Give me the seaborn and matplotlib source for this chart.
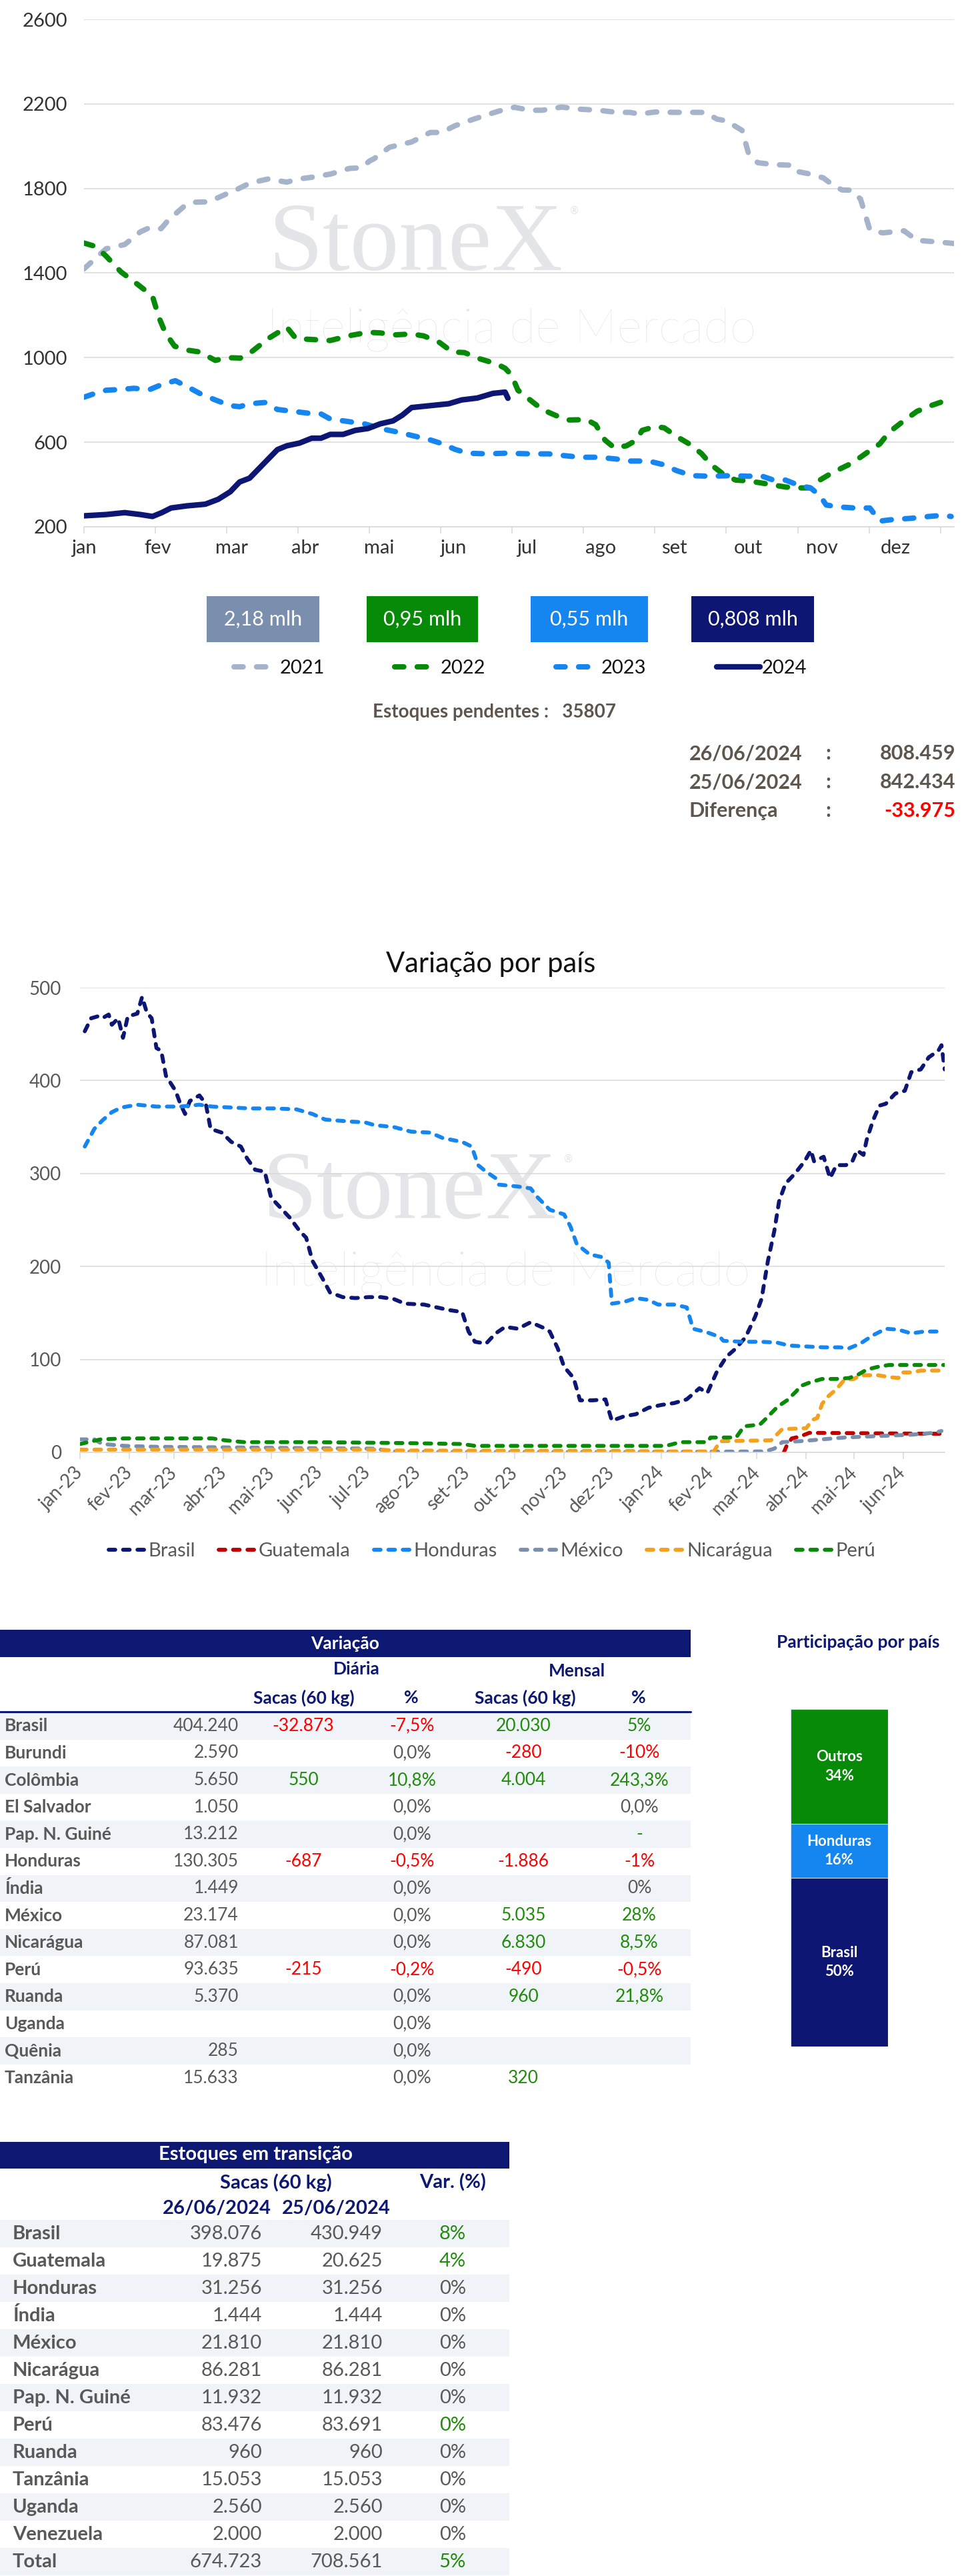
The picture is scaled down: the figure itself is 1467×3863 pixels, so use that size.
import numpy as np
import pandas as pd
import matplotlib
matplotlib.use('Agg')
import matplotlib.pyplot as plt
import matplotlib.dates as mdates
from matplotlib.patches import Rectangle
from matplotlib.ticker import FuncFormatter
import seaborn as sns

W, H = 1467, 3863

meses = ['jan', 'fev', 'mar', 'abr', 'mai', 'jun', 'jul', 'ago', 'set', 'out', 'nov', 'dez']

# estoques certificados (mil sacas), eixo x em meses desde 1o de janeiro
mes_2021 = [0, 0.13, 0.31, 0.57, 0.79, 0.92, 1.08, 1.18, 1.40, 1.53, 1.75, 2.0, 2.14, 2.32, 2.58, 2.84,
            3.01, 3.19, 3.45, 3.72, 3.89, 4.0, 4.06, 4.28, 4.59, 4.85, 5.01, 5.2, 5.46, 5.81, 6.03, 6.25,
            6.42, 6.69, 6.95, 7.21, 7.47, 7.65, 7.78, 8.01, 8.26, 8.70, 8.87, 9.0, 9.22, 9.31, 9.44, 9.66,
            9.92, 10.0, 10.18, 10.36, 10.49, 10.62, 10.75, 10.88, 11.01, 11.19, 11.49, 11.67, 11.93, 12.19]
est_2021 = [1420, 1460, 1515, 1535, 1595, 1615, 1610, 1650, 1715, 1735, 1737, 1775, 1795, 1825, 1845, 1830,
            1845, 1853, 1868, 1895, 1898, 1930, 1940, 1995, 2020, 2065, 2065, 2097, 2128, 2166, 2184, 2170,
            2170, 2185, 2175, 2170, 2160, 2160, 2152, 2162, 2160, 2160, 2128, 2120, 2075, 1967, 1922, 1913,
            1910, 1880, 1868, 1850, 1817, 1793, 1792, 1750, 1605, 1590, 1600, 1555, 1548, 1540]

mes_2022 = [0, 0.17, 0.31, 0.52, 0.70, 0.87, 0.96, 1.05, 1.14, 1.27, 1.44, 1.62, 1.84, 2.01, 2.19, 2.36,
            2.58, 2.71, 2.84, 2.97, 3.19, 3.45, 3.72, 3.98, 4.15, 4.37, 4.59, 4.76, 4.98, 5.16, 5.33, 5.55,
            5.77, 5.90, 5.99, 6.08, 6.25, 6.42, 6.60, 6.77, 7.04, 7.17, 7.30, 7.43, 7.60, 7.74, 7.82, 8.00,
            8.13, 8.30, 8.48, 8.65, 8.79, 8.96, 9.13, 9.31, 9.57, 9.83, 10.01, 10.18, 10.31, 10.49, 10.71,
            10.84, 11.01, 11.15, 11.28, 11.45, 11.67, 11.84, 12.02, 12.15]
est_2022 = [1542, 1525, 1480, 1405, 1360, 1315, 1290, 1190, 1117, 1054, 1036, 1027, 987, 1000, 998, 1031,
            1090, 1117, 1145, 1090, 1086, 1081, 1104, 1120, 1117, 1108, 1112, 1103, 1072, 1027, 1024, 994,
            972, 950, 918, 846, 800, 755, 728, 705, 707, 683, 610, 574, 583, 610, 656, 674,
            668, 628, 592, 547, 493, 448, 421, 417, 403, 388, 384, 384, 421, 457, 493,
            520, 560, 592, 647, 692, 746, 770, 791, 819]

mes_2023 = [0, 0.13, 0.31, 0.48, 0.70, 0.92, 1.09, 1.28, 1.44, 1.62, 1.84, 2.05, 2.18, 2.32, 2.54, 2.71,
            2.93, 3.15, 3.32, 3.45, 3.72, 3.93, 4.15, 4.41, 4.63, 4.85, 5.02, 5.20, 5.38, 5.64, 5.90, 6.25,
            6.51, 6.69, 6.95, 7.21, 7.47, 7.65, 7.91, 8.13, 8.30, 8.52, 8.78, 9.05, 9.31, 9.48, 9.66, 9.83,
            10.01, 10.18, 10.31, 10.40, 10.58, 10.80, 11.01, 11.06, 11.15, 11.32, 11.58, 11.84, 12.02, 12.15]
est_2023 = [813, 828, 846, 849, 855, 849, 873, 891, 864, 831, 800, 773, 768, 782, 788, 755,
            746, 737, 734, 710, 697, 687, 665, 647, 629, 611, 593, 566, 548, 545, 548, 545,
            545, 538, 529, 529, 520, 511, 511, 493, 466, 442, 439, 442, 439, 442, 421, 421,
            397, 384, 348, 303, 294, 289, 289, 267, 227, 234, 240, 249, 254, 249]

mes_2024 = [0, 0.31, 0.57, 0.79, 0.96, 1.09, 1.22, 1.44, 1.70, 1.88, 2.05, 2.18, 2.32, 2.45, 2.58, 2.71,
            2.84, 3.02, 3.19, 3.32, 3.45, 3.63, 3.80, 3.98, 4.15, 4.33, 4.46, 4.59, 4.85, 5.11, 5.29, 5.51,
            5.73, 5.90, 5.94]
est_2024 = [252, 258, 267, 258, 249, 267, 289, 299, 307, 330, 366, 412, 430, 475, 520, 565,
            583, 596, 619, 619, 637, 637, 656, 665, 687, 701, 728, 764, 773, 782, 800, 809,
            831, 837, 808]

anos = ['2021', '2022', '2023', '2024']
caixas = ['2,18 mlh', '0,95 mlh', '0,55 mlh', '0,808 mlh']
cores_ano = ['#A6B4CB', '#078A07', '#1586F0', '#0D1773']
cores_caixa = ['#7A8FAE', '#078A07', '#1586F0', '#0D1773']

pendentes = '35807'
datas = ['26/06/2024', '25/06/2024', 'Diferença']
valores_data = ['808.459', '842.434', '-33.975']

# variação por país (mil sacas), x em dias desde 01/01/2023
dias_brasil = [3, 7, 11, 14, 18, 20, 24, 27, 30, 36, 39, 42, 45, 48, 51, 54, 60, 63, 66, 69,
               75, 79, 82, 89, 95, 101, 105, 110, 116, 120, 126, 132, 138, 142, 146, 152, 157, 165, 173, 181,
               189, 197, 204, 216, 224, 232, 240, 244, 248, 255, 261, 267, 275, 283, 291, 295, 300, 304, 310, 314,
               322, 330, 334, 342, 349, 357, 365, 373, 381, 389, 394, 400, 406, 412, 418, 424, 428, 432, 436, 439,
               443, 449, 455, 459, 461, 467, 471, 475, 481, 485, 488, 492, 494, 498, 502, 506, 512, 518, 522, 528,
               533, 539, 541, 543]
brasil = [453, 467, 469, 467, 471, 460, 467, 446, 469, 472, 490, 473, 467, 435, 432, 405, 389, 375, 364, 378,
          384, 375, 348, 344, 334, 329, 316, 304, 302, 274, 263, 252, 238, 231, 206, 188, 172, 167, 166, 167,
          167, 165, 160, 159, 156, 153, 151, 130, 119, 117, 128, 135, 133, 140, 134, 130, 112, 92, 80, 56,
          56, 57, 34, 39, 41, 48, 51, 53, 57, 69, 64, 87, 103, 112, 124, 146, 165, 206, 238, 270,
          289, 300, 313, 325, 313, 318, 295, 309, 309, 313, 325, 320, 336, 357, 373, 375, 386, 389, 409, 412,
          425, 432, 438, 412]

dias_guatemala = [442, 444, 447, 452, 458, 543]
guatemala = [0, 8, 15, 17, 21, 20]

dias_honduras = [3, 9, 14, 20, 26, 36, 48, 63, 75, 83, 95, 107, 122, 136, 146, 154, 169, 179, 185, 197,
                 208, 220, 228, 240, 246, 250, 255, 261, 263, 275, 283, 287, 295, 304, 308, 312, 320, 328, 332, 334,
                 342, 349, 357, 363, 373, 381, 385, 394, 402, 404, 416, 428, 438, 445, 455, 467, 477, 483, 490, 498,
                 506, 514, 522, 530, 539]
honduras = [329, 348, 357, 366, 371, 374, 372, 372, 374, 372, 371, 370, 370, 369, 364, 358, 356, 355, 352, 350,
            345, 344, 338, 334, 329, 309, 302, 295, 288, 286, 284, 275, 261, 256, 243, 224, 213, 210, 204, 160,
            162, 166, 164, 159, 159, 156, 133, 129, 124, 120, 119, 119, 118, 115, 114, 113, 113, 112, 117, 126,
            133, 132, 128, 130, 130]

dias_mexico = [0, 9, 14, 28, 48, 87, 146, 185, 197, 224, 342, 430, 436, 441, 452, 466, 480, 494, 508, 522, 536, 541]
mexico = [14, 14, 9, 7, 6, 5.5, 4.5, 4, 1, 0.5, 0.5, 1, 4, 11, 12, 14, 16, 17, 18, 19, 21, 23]

dias_nicaragua = [0, 185, 200, 342, 365, 398, 402, 434, 441, 456, 460, 463, 466, 469, 475, 480, 486, 490,
                  501, 508, 514, 516, 522, 528, 543]
nicaragua = [3, 3, 2, 1.5, 1, 1, 12, 13, 25, 26, 35, 37, 52, 59, 68, 78, 79, 83, 83, 81, 80, 86, 86, 88, 88]

dias_peru = [0, 13, 28, 83, 91, 103, 146, 204, 240, 248, 368, 377, 394, 396, 412, 417, 427, 430, 438, 444,
             450, 452, 458, 466, 475, 483, 489, 494, 501, 508, 543]
peru = [9, 14, 15, 15, 13, 11, 11, 10, 9, 7, 7, 11, 11, 16, 16, 28, 30, 35, 49, 56,
        66, 71, 75, 79, 79, 80, 84, 89, 92, 94, 94]

paises_linha = ['Brasil', 'Guatemala', 'Honduras', 'México', 'Nicarágua', 'Perú']
cores_linha = ['#0D1773', '#C00000', '#1586F0', '#7A8FAE', '#F4A11E', '#078A07']

# tabela de variação
paises_var = ['Brasil', 'Burundi', 'Colômbia', 'El Salvador', 'Pap. N. Guiné', 'Honduras', 'Índia',
              'México', 'Nicarágua', 'Perú', 'Ruanda', 'Uganda', 'Quênia', 'Tanzânia']
estoque_var = ['404.240', '2.590', '5.650', '1.050', '13.212', '130.305', '1.449',
               '23.174', '87.081', '93.635', '5.370', '', '285', '15.633']
diaria_sacas = ['-32.873', '', '550', '', '', '-687', '', '', '', '-215', '', '', '', '']
diaria_pct = ['-7,5%', '0,0%', '10,8%', '0,0%', '0,0%', '-0,5%', '0,0%', '0,0%', '0,0%', '-0,2%',
              '0,0%', '0,0%', '0,0%', '0,0%']
mensal_sacas = ['20.030', '-280', '4.004', '', '', '-1.886', '', '5.035', '6.830', '-490', '960', '', '', '320']
mensal_pct = ['5%', '-10%', '243,3%', '0,0%', '-', '-1%', '0%', '28%', '8,5%', '-0,5%', '21,8%', '', '', '']

part_nomes = ['Brasil', 'Honduras', 'Outros']
part_vals = [50, 16, 34]
part_cores = ['#0D1773', '#1586F0', '#078A07']

# estoques em transição
paises_tr = ['Brasil', 'Guatemala', 'Honduras', 'Índia', 'México', 'Nicarágua', 'Pap. N. Guiné', 'Perú',
             'Ruanda', 'Tanzânia', 'Uganda', 'Venezuela', 'Total']
tr_2606 = ['398.076', '19.875', '31.256', '1.444', '21.810', '86.281', '11.932', '83.476', '960',
           '15.053', '2.560', '2.000', '674.723']
tr_2506 = ['430.949', '20.625', '31.256', '1.444', '21.810', '86.281', '11.932', '83.691', '960',
           '15.053', '2.560', '2.000', '708.561']
tr_var = ['8%', '4%', '0%', '0%', '0%', '0%', '0%', '0%', '0%', '0%', '0%', '0%', '5%']
tr_var_verde = [True, True, False, False, False, False, False, True, False, False, False, False, True]

NAVY = '#0D1873'
GREY = '#595959'
GREEN = '#1F8C0A'
RED = '#FF0000'
SHADE = '#F0F3F7'
GRID = '#D9D9D9'
MARCA = '#E4E5E8'

sns.set_theme(style='white')
plt.rcParams['font.family'] = ['Lato', 'DejaVu Sans']

fig = plt.figure(figsize=(W / 100, H / 100), dpi=100)
fig.patch.set_facecolor('white')


def px_axes(l, t, r, b):
    return fig.add_axes([l / W, 1 - b / H, (r - l) / W, (b - t) / H])


ax0 = fig.add_axes([0, 0, 1, 1])
ax0.set_xlim(0, W)
ax0.set_ylim(H, 0)
ax0.axis('off')


def marca(x, y_stone, y_intel):
    ax0.text(x, y_stone, 'StoneX', family='Liberation Serif', fontsize=106, color=MARCA,
             ha='left', va='baseline')
    ax0.text(x + 452, y_stone - 84, '®', family='DejaVu Sans', fontsize=11, color=MARCA,
             ha='left', va='baseline')
    ax0.text(x - 2, y_intel, 'Inteligência de Mercado', fontsize=52, weight='light', color=MARCA,
             ha='left', va='baseline')


marca(402, 405, 514)
marca(393, 1827, 1928)

# ---------------- grafico 1 ----------------
ax1 = px_axes(126, 29, 1431, 790)
ax1.set_facecolor('none')
series = [(mes_2021, est_2021), (mes_2022, est_2022), (mes_2023, est_2023), (mes_2024, est_2024)]
for (m, v), ano, c in zip(series, anos, cores_ano):
    kw = dict(solid_capstyle='round', solid_joinstyle='round')
    if ano != '2024':
        kw.update(dashes=(1.7, 2.5), dash_capstyle='round', dash_joinstyle='round')
        lw = 5.8
    else:
        lw = 6
    sns.lineplot(x=m, y=v, ax=ax1, color=c, lw=lw, label=ano, **kw)

ax1.set_xlim(0, 12.19)
ax1.set_ylim(200, 2600)
ax1.set_yticks(range(200, 2601, 400))
ax1.yaxis.grid(True, color=GRID, lw=1.1)
ax1.set_axisbelow(True)
for s in ['top', 'left', 'right']:
    ax1.spines[s].set_visible(False)
ax1.spines['bottom'].set_color(GRID)
ax1.spines['bottom'].set_linewidth(1.1)
ax1.xaxis.remove_overlapping_locs = False
ax1.set_xticks(range(13), [''] * 13)
ax1.set_xticks(np.arange(12) * 1.034, meses, minor=True)
ax1.tick_params(axis='x', which='major', length=7, width=1.1, color=GRID, bottom=True)
ax1.tick_params(axis='x', which='minor', length=0, pad=14, labelsize=21, labelcolor='#333333')
ax1.tick_params(axis='y', length=0, pad=18, labelsize=21, labelcolor='#333333')
ax1.set_xlabel('')
ax1.set_ylabel('')
h1, l1 = ax1.get_legend_handles_labels()
ax1.get_legend().remove()

# caixas de valores
box_x = [(310, 479), (550, 717), (796, 972), (1037, 1221)]
for (l, r), txt, c in zip(box_x, caixas, cores_caixa):
    ax0.add_patch(Rectangle((l, 894), r - l, 69, color=c, lw=0))
    ax0.text((l + r) / 2, 929, txt, color='white', fontsize=22, ha='center', va='center')

fig.legend(h1, l1, loc='center', bbox_to_anchor=(781 / W, 1 - 1002 / H), ncol=4, frameon=False,
           fontsize=21, handlelength=2.25, handletextpad=0.1, columnspacing=3.6, labelcolor='#111111')

ax0.text(559, 1068, 'Estoques pendentes :   ' + pendentes, fontsize=20, weight='bold', color='#5E554D',
         ha='left', va='center')
for i, (d, v) in enumerate(zip(datas, valores_data)):
    y = 1130 + i * 43
    ax0.text(1034, y, d, fontsize=22, weight='bold', color='#5E554D', ha='left', va='center')
    ax0.text(1242, y, ':', fontsize=22, weight='bold', color='#5E554D', ha='center', va='center')
    ax0.text(1433, y, v, fontsize=22, weight='bold', color=RED if v.startswith('-') else '#5E554D',
             ha='right', va='center')

# ---------------- grafico 2 ----------------
ax0.text(736, 1446, 'Variação por país', fontsize=30, color='#111111', ha='center', va='center')
ax2 = px_axes(120, 1481, 1417, 2178)
ax2.set_facecolor('none')
inicio = pd.Timestamp('2023-01-01')
dados2 = [(dias_brasil, brasil), (dias_guatemala, guatemala), (dias_honduras, honduras),
          (dias_mexico, mexico), (dias_nicaragua, nicaragua), (dias_peru, peru)]
for (d, v), nome, c in zip(dados2, paises_linha, cores_linha):
    datas_x = inicio + pd.to_timedelta(d, unit='D')
    sns.lineplot(x=datas_x, y=v, ax=ax2, color=c, lw=4.2, label=nome, dashes=(1.7, 2.0),
                 dash_capstyle='round', dash_joinstyle='round')

ax2.set_xlim(inicio, pd.Timestamp('2024-06-27'))
ax2.set_ylim(0, 500)
ax2.set_yticks(range(0, 501, 100))
ax2.yaxis.grid(True, color=GRID, lw=1.1)
ax2.set_axisbelow(True)
for s in ['top', 'left', 'right']:
    ax2.spines[s].set_visible(False)
ax2.spines['bottom'].set_color(GRID)
ax2.spines['bottom'].set_linewidth(1.1)
ax2.xaxis.set_major_locator(mdates.MonthLocator())
ax2.xaxis.set_major_formatter(FuncFormatter(
    lambda x, pos: f"{meses[mdates.num2date(x).month - 1]}-{mdates.num2date(x).year % 100:02d}"))
ax2.tick_params(axis='x', length=7, width=1.1, color=GRID, bottom=True, pad=12, labelsize=20,
                labelcolor=GREY)
for lab in ax2.get_xticklabels():
    lab.set_rotation(45)
    lab.set_ha('right')
    lab.set_va('center')
    lab.set_rotation_mode('anchor')
ax2.tick_params(axis='y', length=0, pad=20, labelsize=20, labelcolor=GREY)
ax2.set_xlabel('')
ax2.set_ylabel('')
h2, l2 = ax2.get_legend_handles_labels()
ax2.get_legend().remove()
fig.legend(h2, l2, loc='center', bbox_to_anchor=(738 / W, 1 - 2326 / H), ncol=6, frameon=False,
           fontsize=21, handlelength=2.0, handletextpad=0.05, columnspacing=1.2, labelcolor=GREY)


# ---------------- tabela variação ----------------
def cor_valor(s):
    if s in ('0,0%', '0%'):
        return GREY
    if s.startswith('-') and len(s) > 1:
        return RED
    return GREEN


ax0.add_patch(Rectangle((0, 2444), 1036, 41, color=NAVY, lw=0))
ax0.text(518, 2465, 'Variação', color='white', fontsize=19, weight='bold', ha='center', va='center')
ax0.text(535, 2503, 'Diária', color=NAVY, fontsize=19, weight='bold', ha='center', va='center')
ax0.text(865, 2506, 'Mensal', color=NAVY, fontsize=19, weight='bold', ha='center', va='center')
for x, s in zip([456, 617, 788, 958], ['Sacas (60 kg)', '%', 'Sacas (60 kg)', '%']):
    ax0.text(x, 2546, s, color=NAVY, fontsize=19, weight='bold', ha='center', va='center')

row0, rh = 2568, 40.6
for i, p in enumerate(paises_var):
    top = row0 + rh * i
    yc = top + rh / 2
    if i % 2 == 0:
        ax0.add_patch(Rectangle((0, top), 1036, rh, color=SHADE, lw=0))
    ax0.text(7, yc, p, fontsize=19, weight='bold', color=GREY, ha='left', va='center')
    ax0.text(358, yc, estoque_var[i], fontsize=19, color=GREY, ha='right', va='center')
    for x, s in zip([455, 618, 785, 959], [diaria_sacas[i], diaria_pct[i], mensal_sacas[i], mensal_pct[i]]):
        if s:
            ax0.text(x, yc, s, fontsize=19, color=cor_valor(s), ha='center', va='center')
ax0.plot([0, 1036], [2567, 2567], color=NAVY, lw=2.2)

# participação por país
ax0.text(1287, 2463, 'Participação por país', color=NAVY, fontsize=19, weight='bold', ha='center',
         va='center')
axb = px_axes(1186, 2563, 1332, 3069)
base = 0
for nome, v, c in zip(part_nomes, part_vals, part_cores):
    axb.bar(0, v, bottom=base, width=1, color=c, edgecolor='#CFD8E8', lw=0.8)
    axb.text(0, base + v / 2, f'{nome}\n{v}%', color='white', fontsize=16, weight='bold', ha='center',
             va='center', linespacing=1.45)
    base += v
axb.set_xlim(-0.5, 0.5)
axb.set_ylim(0, 100)
axb.axis('off')

# ---------------- tabela estoques em transição ----------------
ax0.add_patch(Rectangle((0, 3212), 764, 40, color=NAVY, lw=0))
ax0.text(383, 3231, 'Estoques em transição', color='white', fontsize=21, weight='bold', ha='center',
         va='center')
ax0.text(414, 3273, 'Sacas (60 kg)', color=NAVY, fontsize=21, weight='bold', ha='center', va='center')
ax0.text(679, 3273, 'Var. (%)', color=NAVY, fontsize=21, weight='bold', ha='center', va='center')
ax0.text(325, 3312, '26/06/2024', color=NAVY, fontsize=21, weight='bold', ha='center', va='center')
ax0.text(504, 3312, '25/06/2024', color=NAVY, fontsize=21, weight='bold', ha='center', va='center')

row0, rh = 3329, 41.0
for i, p in enumerate(paises_tr):
    top = row0 + rh * i
    yc = top + rh / 2
    if i % 2 == 0:
        ax0.add_patch(Rectangle((0, top), 764, rh, color=SHADE, lw=0))
    ax0.text(19, yc, p, fontsize=21, weight='bold', color=GREY, ha='left', va='center')
    ax0.text(393, yc, tr_2606[i], fontsize=21, color=GREY, ha='right', va='center')
    ax0.text(574, yc, tr_2506[i], fontsize=21, color=GREY, ha='right', va='center')
    ax0.text(699, yc, tr_var[i], fontsize=21, color=GREEN if tr_var_verde[i] else GREY, ha='right',
             va='center')

fig.savefig('out.png', dpi=100)
